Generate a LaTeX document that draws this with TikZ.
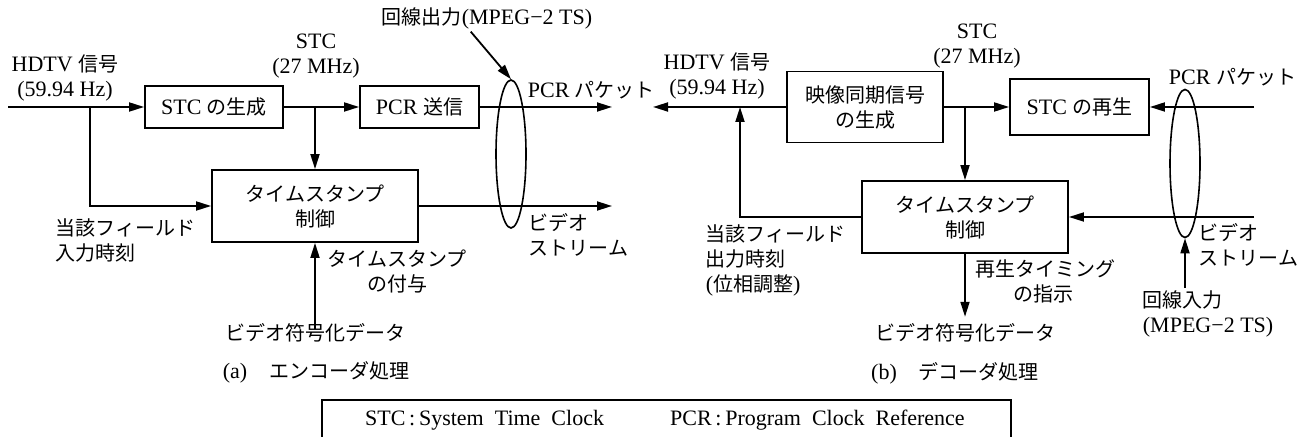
\documentclass[tikz,border=0pt]{standalone}
\usepackage{fontspec}
\setmainfont{Liberation Serif}[Scale=1.1]
\newfontfamily\jpfont{Noto Sans CJK JP}
\usetikzlibrary{arrows.meta,shapes.geometric}
\newcommand\fsz{\fontsize{10pt}{12.5pt}\selectfont}
\tikzset{
    blk/.style={draw, inner sep=0pt, align=center},
    lbl/.style={inner sep=1pt, align=center},
    jp/.style={inner sep=1pt, align=center, font=\fsz\jpfont},
    ring/.style={draw, ellipse, inner sep=0pt, minimum width=15pt, minimum height=74pt, line width=0.8pt},
    sig/.style={-{Triangle[length=7.5pt,width=4.5pt]}},
}

\begin{document}
\begin{tikzpicture}[x=0.5pt, y=-0.5pt, font=\fsz, line width=0.9pt]
    \useasboundingbox (0,0) rectangle (1299,437);
    % (a) encoder
    \node[lbl] (hdtva) at (65,78) {HDTV {\jpfont 信号}\\(59.94 Hz)};
    \node[lbl] (stca) at (316,56) {STC\\(27 MHz)};
    \node[blk, minimum width=69pt, minimum height=21pt] (stcgen) at (214,107) {STC {\jpfont の生成}};
    \node[blk, minimum width=59.5pt, minimum height=21pt] (pcrsend) at (419.5,107) {PCR {\jpfont 送信}};
    \node[blk, jp, inner sep=0pt, minimum width=103pt, minimum height=36pt] (tsa) at (315,206) {タイムスタンプ\\制御};
    \coordinate (ina) at (8,107);
    \coordinate (ja) at (90,107);
    \coordinate (jsa) at (315,107);
    \coordinate (pcrouta) at (612,107);
    \coordinate (vouta) at (612,206);
    \draw[sig] (ina) -- (stcgen.west);
    \draw[sig] (ja) |- (tsa.west);
    \draw[sig] (stcgen) -- (pcrsend);
    \draw[sig] (jsa) -- (tsa);
    \draw[sig] (pcrsend) -- (pcrouta);
    \draw[sig] (tsa) -- (vouta);
    \node[ring] (ella) at (511,154) {};
    \node[lbl] (linea) at (487,18) {{\jpfont 回線出力}(MPEG−2 TS)};
    \draw[sig] (linea.220) -- (ella.north);
    \node[lbl, anchor=west] (pcra) at (525,90) {PCR {\jpfont パケット}};
    \node[jp, anchor=west, align=left] (vsa) at (526,235) {ビデオ\\ストリーム};
    \node[jp, anchor=west, align=left] (tsgive) at (325,272) {タイムスタンプ\\\hspace*{20pt}の付与};
    \node[jp, anchor=west, align=left] (fielda) at (53,240) {当該フィールド\\入力時刻};
    \node[jp] (vdata) at (315,333) {ビデオ符号化データ};
    \draw[sig, shorten <=-4pt] (vdata.north) -- (tsa.south);
    \node (capa) at (316,372) {(a)\quad{\jpfont エンコーダ処理}};

    % (b) decoder
    \node[lbl] (hdtvb) at (717,76) {HDTV {\jpfont 信号}\\(59.94 Hz)};
    \node[lbl] (stcb) at (977,46) {STC\\(27 MHz)};
    \node[blk, jp, inner sep=0pt, minimum width=78pt, minimum height=35.5pt] (vsync) at (865,107) {映像同期信号\\の生成};
    \node[blk, minimum width=69.5pt, minimum height=28pt] (stcrep) at (1079.5,107) {STC {\jpfont の再生}};
    \node[blk, jp, inner sep=0pt, minimum width=103pt, minimum height=36pt] (tsb) at (965,217) {タイムスタンプ\\制御};
    \coordinate (hdoutb) at (653,107);
    \coordinate (jfb) at (740,107);
    \coordinate (jsb) at (965,107);
    \coordinate (pcrinb) at (1254,107);
    \coordinate (vinb) at (1254,217);
    \draw[sig] (vsync) -- (hdoutb);
    \draw[sig] (tsb.west) -| (jfb);
    \draw[sig] (vsync) -- (stcrep);
    \draw[sig] (jsb) -- (tsb);
    \draw[sig] (pcrinb) -- (stcrep);
    \draw[sig] (vinb) -- (tsb.east);
    \node[ring] (ellb) at (1185,163.5) {};
    \node[lbl, anchor=west] (pcrb) at (1166,77) {PCR {\jpfont パケット}};
    \node[jp, anchor=west, align=left] (vsb) at (1196,245) {ビデオ\\ストリーム};
    \node[lbl, anchor=west, align=left] (lineb) at (1140,314) {{\jpfont 回線入力}\\(MPEG−2 TS)};
    \draw[sig] (lineb.north -| ellb.south) -- (ellb.south);
    \node[jp, anchor=west, align=left] (fieldb) at (703,260) {当該フィールド\\出力時刻\\{\rmfamily(}位相調整{\rmfamily)}};
    \node[jp] (vdatb) at (965,333) {ビデオ符号化データ};
    \draw[sig, shorten >=2pt] (tsb.south) -- (vdatb.north);
    \node[jp, anchor=west, align=left] (playb) at (973,281) {再生タイミング\\\hspace*{19pt}の指示};
    \node (capb) at (955,373) {(b)\quad{\jpfont デコーダ処理}};

    % legend
    \node[draw, minimum width=344.5pt, minimum height=40pt, anchor=north west] (legend) at (321,399) {};
    \node[anchor=west] (stcdef) at (357,420) {STC\,:\,System\ \ Time\ \ Clock};
    \node[anchor=west] (pcrdef) at (662,420) {PCR\,:\,Program\ \ Clock\ \ Reference};
\end{tikzpicture}
\end{document}
